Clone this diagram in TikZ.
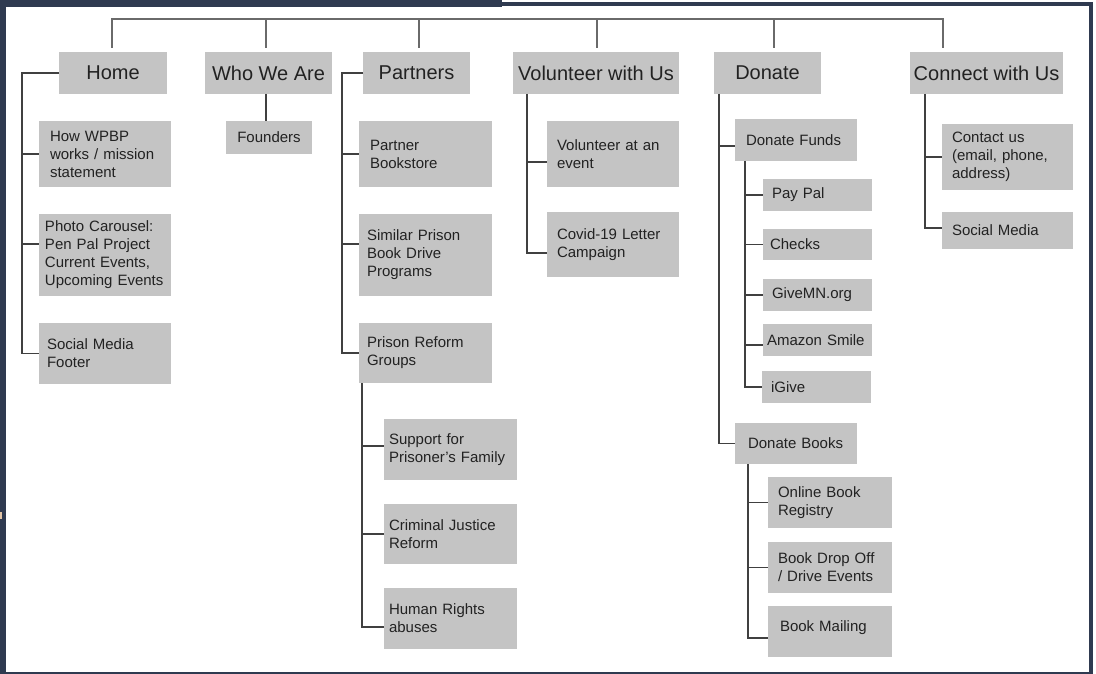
\documentclass[tikz,border=0pt]{standalone}
\usepackage{fontspec}
\setmainfont{Liberation Sans}
\usetikzlibrary{calc}
\definecolor{navy}{HTML}{2F3A50}
\definecolor{boxgray}{HTML}{C4C4C4}
\definecolor{linegray}{HTML}{404040}
\definecolor{busgray}{HTML}{6A6A6A}
\definecolor{txt}{HTML}{222222}
\definecolor{tan}{HTML}{E2C4A6}
\newcommand\kid[7]{%
  \pgfmathsetmacro\kidtw{#4-2*#6}%
  \node[kidbox,anchor=north west,minimum width=#4pt,minimum height=#5pt,
        inner xsep=#6pt,text width=\kidtw pt] (#1) at (#2,#3) {#7};}
\begin{document}
\begin{tikzpicture}[x=1pt,y=-1pt,
  box/.style={fill=boxgray,draw=none,inner ysep=2pt,outer sep=0pt,text=txt},
  topbox/.style={box,anchor=north west,font=\fontsize{20}{24}\selectfont,inner xsep=0pt},
  kidbox/.style={box,font=\fontsize{15}{18}\selectfont,align=left},
  link/.style={draw=linegray,line width=1.5pt},
  bus/.style={draw=busgray,line width=1.5pt}]
\useasboundingbox (0,0) rectangle (1096,674);
% frame
\fill[white] (0,0) rectangle (1096,674);
\fill[navy] (0,0) rectangle (6,674);
\fill[navy] (0,0) rectangle (502,7);
\fill[navy] (502,2) rectangle (1093,6);
\fill[navy] (1089,2) rectangle (1093,674);
\fill[navy] (0,671.5) rectangle (1093,674);
\fill[tan] (0,512) rectangle (2,519);

% top level
\node[topbox,minimum width=108pt,minimum height=42pt] (home) at (59,52) {Home};
\node[topbox,minimum width=127pt,minimum height=42pt] (who) at (205,52) {Who We Are};
\node[topbox,minimum width=107pt,minimum height=42pt] (partners) at (363,52) {Partners};
\node[topbox,minimum width=166pt,minimum height=42pt] (vol) at (513,52) {Volunteer with Us};
\node[topbox,minimum width=107pt,minimum height=42pt] (donate) at (714,52) {Donate};
\node[topbox,minimum width=153pt,minimum height=42pt] (connect) at (910,52) {Connect with Us};

% Home children
\kid{how}{39}{121}{132}{66}{11}{How WPBP\\works / mission\\statement}
\kid{photo}{39}{214}{132}{82}{6}{Photo Carousel:\\Pen Pal Project\\Current Events,\\Upcoming Events}
\kid{footer}{39}{323}{132}{61}{8}{Social Media\\Footer}
% Who children
\node[kidbox,anchor=north west,minimum width=86pt,minimum height=33pt,align=center] (founders) at (226,121) {Founders};
% Partners children
\kid{pbook}{359}{121}{133}{66}{11}{Partner\\Bookstore}
\kid{similar}{359}{214}{133}{82}{8}{Similar Prison\\Book Drive\\Programs}
\kid{reform}{359}{323}{133}{60}{8}{Prison Reform\\Groups}
\kid{support}{384}{419}{133}{61}{5}{Support for\\Prisoner’s Family}
\kid{criminal}{384}{504}{133}{60}{5}{Criminal Justice\\Reform}
\kid{human}{384}{588}{133}{61}{5}{Human Rights\\abuses}
% Volunteer children
\kid{volevent}{547}{121}{132}{66}{10}{Volunteer at an\\event}
\kid{covid}{547}{212}{132}{65}{10}{Covid-19 Letter\\Campaign}
% Donate children
\kid{dfunds}{735}{119}{122}{42}{11}{Donate Funds}
\kid{paypal}{763}{179}{109}{32}{9}{Pay Pal}
\kid{checks}{763}{229}{109}{31}{7}{Checks}
\kid{givemn}{763}{279}{109}{32}{9}{GiveMN.org}
\kid{amazon}{763}{324}{109}{32}{4}{Amazon Smile}
\kid{igive}{762}{371}{109}{32}{9}{iGive}
\kid{dbooks}{735}{423}{122}{41}{13}{Donate Books}
\kid{online}{768}{477}{124}{51}{10}{Online Book\\Registry}
\kid{dropoff}{768}{542}{124}{51}{10}{Book Drop Off\\/ Drive Events}
\kid{mailing}{768}{606}{124}{51}{12}{\raisebox{4pt}[\height][\depth]{Book Mailing}}
% Connect children
\kid{contact}{942}{124}{131}{66}{10}{Contact us\\(email, phone,\\address)}
\kid{csocial}{942}{212}{131}{37}{10}{Social Media}

% top bus
\coordinate (b1) at (112,19);
\coordinate (b2) at (266,19);
\coordinate (b3) at (419,19);
\coordinate (b4) at (597,19);
\coordinate (b5) at (774,19);
\coordinate (b6) at (943,19);
\draw[bus] ($(b1 |- home.north)+(0,-4)$) -- (b1) -- (b6) -- ($(b6 |- connect.north)+(0,-4)$);
\draw[bus] (b2) -- ($(b2 |- who.north)+(0,-4)$);
\draw[bus] (b3) -- ($(b3 |- partners.north)+(0,-4)$);
\draw[bus] (b4) -- ($(b4 |- vol.north)+(0,-4)$);
\draw[bus] (b5) -- ($(b5 |- donate.north)+(0,-4)$);

% Home
\coordinate (hs) at (22,0);
\coordinate (photoIn) at ($(photo.west)+(0,-11)$);
\draw[link] (home.west) -| (hs |- footer.west) -- (footer.west);
\draw[link] (hs |- how.west) -- (how.west);
\draw[link] (hs |- photoIn) -- (photoIn);
% Who
\coordinate (ws) at (266,0);
\draw[link] (ws |- who.south) -- (ws |- founders.north);
% Partners
\coordinate (ps) at (342,0);
\coordinate (similarIn) at ($(similar.west)+(0,-11)$);
\draw[link] (partners.west) -| (ps |- reform.west) -- (reform.west);
\draw[link] (ps |- pbook.west) -- (pbook.west);
\draw[link] (ps |- similarIn) -- (similarIn);
\coordinate (rs) at (362,0);
\coordinate (supportIn) at ($(support.west)+(0,-3.5)$);
\coordinate (humanIn) at ($(human.west)+(0,8.5)$);
\draw[link] (rs |- reform.south) |- (humanIn);
\draw[link] (rs |- supportIn) -- (supportIn);
\draw[link] (rs |- criminal.west) -- (criminal.west);
% Volunteer
\coordinate (vs) at (527,0);
\coordinate (voleventIn) at ($(volevent.west)+(0,8)$);
\coordinate (covidIn) at ($(covid.west)+(0,8.5)$);
\draw[link] (vs |- vol.south) |- (covidIn);
\draw[link] (vs |- voleventIn) -- (voleventIn);
% Donate
\coordinate (ds) at (719,0);
\coordinate (dfundsIn) at ($(dfunds.west)+(0,6)$);
\draw[link] (ds |- donate.south) |- (dbooks.west);
\draw[link] (ds |- dfundsIn) -- (dfundsIn);
\coordinate (fs) at (745,0);
\coordinate (amazonIn) at ($(amazon.west)+(0,5)$);
\draw[link] (fs |- dfunds.south) |- (igive.west);
\draw[link] (fs |- paypal.west) -- (paypal.west);
\draw[link] (fs |- checks.west) -- (checks.west);
\draw[link] (fs |- givemn.west) -- (givemn.west);
\draw[link] (fs |- amazonIn) -- (amazonIn);
\coordinate (bs) at (748,0);
\coordinate (mailIn) at ($(mailing.west)+(0,6.5)$);
\draw[link] (bs |- dbooks.south) |- (mailIn);
\draw[link] (bs |- online.west) -- (online.west);
\draw[link] (bs |- dropoff.west) -- (dropoff.west);
% Connect
\coordinate (cs) at (925,0);
\coordinate (csocialIn) at ($(csocial.west)+(0,-2.5)$);
\draw[link] (cs |- connect.south) |- (csocialIn);
\draw[link] (cs |- contact.west) -- (contact.west);
\end{tikzpicture}
\end{document}
